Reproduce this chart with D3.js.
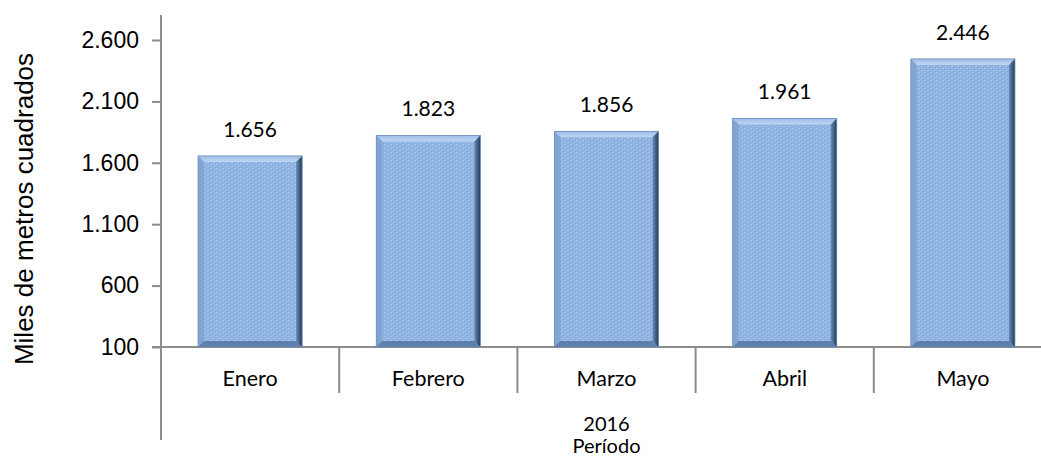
<!DOCTYPE html>
<html>
<head>
<meta charset="utf-8">
<script src="https://cdn.jsdelivr.net/npm/d3@7"></script>
<style>
  body { margin: 0; background: #fff; }
  svg { display: block; }
</style>
</head>
<body>
<div id="chart"></div>
<script>
// chart data
const months = ["Enero", "Febrero", "Marzo", "Abril", "Mayo"];
const values = [1656, 1823, 1856, 1961, 2446];
const yTicks = [100, 600, 1100, 1600, 2100, 2600];
const yearLabel = "2016";
const xTitle = "Período";
const yTitle = "Miles de metros cuadrados";

const width = 1041, height = 458;
const plotLeft = 161, plotRight = 1052, plotTop = 15, base = 347;
const labelFont = "Lato, Open Sans, sans-serif";

const locale = d3.formatLocale({decimal: ",", thousands: ".", grouping: [3], currency: ["", ""]});
const fmt = locale.format(",.0f");

const svg = d3.select("#chart").append("svg")
    .attr("width", width)
    .attr("height", height);

const x = d3.scaleBand()
    .domain(months)
    .range([plotLeft, plotRight])
    .paddingInner(0.416)
    .paddingOuter(0.208);

const y = d3.scaleLinear()
    .domain([100, 2600])
    .range([base, 40]);

// texture + gradients for the bevelled bars
const defs = svg.append("defs");
const pat = defs.append("pattern")
    .attr("id", "tex")
    .attr("patternUnits", "userSpaceOnUse")
    .attr("width", 6).attr("height", 4);
pat.append("rect").attr("width", 6).attr("height", 4).attr("fill", "#8fb4e2");
pat.append("rect").attr("x", 0).attr("y", 0).attr("width", 2).attr("height", 1).attr("fill", "#a3c4ed");
pat.append("rect").attr("x", 3).attr("y", 2).attr("width", 2).attr("height", 1).attr("fill", "#a3c4ed");
pat.append("rect").attr("x", 2).attr("y", 1).attr("width", 1).attr("height", 1).attr("fill", "#7fa5d5");
pat.append("rect").attr("x", 5).attr("y", 3).attr("width", 1).attr("height", 1).attr("fill", "#7fa5d5");

const rg = defs.append("linearGradient").attr("id", "rightEdge")
    .attr("x1", 0).attr("x2", 1).attr("y1", 0).attr("y2", 0);
rg.append("stop").attr("offset", "0%").attr("stop-color", "#6a8cb8");
rg.append("stop").attr("offset", "100%").attr("stop-color", "#22395a");

const tg = defs.append("linearGradient").attr("id", "topEdge")
    .attr("x1", 0).attr("x2", 0).attr("y1", 0).attr("y2", 1);
tg.append("stop").attr("offset", "0%").attr("stop-color", "#9dbde6");
tg.append("stop").attr("offset", "100%").attr("stop-color", "#bfd6f3");

// axes lines
const axisColor = "#8c8c8c";
svg.append("line")
    .attr("x1", plotLeft).attr("x2", plotLeft)
    .attr("y1", plotTop).attr("y2", 440)
    .attr("stroke", axisColor).attr("stroke-width", 2);

svg.append("line")
    .attr("x1", plotLeft - 9).attr("x2", plotRight)
    .attr("y1", base).attr("y2", base)
    .attr("stroke", axisColor).attr("stroke-width", 2);

const yAxis = d3.axisLeft(y)
    .tickValues(yTicks)
    .tickSize(9)
    .tickPadding(13)
    .tickFormat(fmt);

const gy = svg.append("g")
    .attr("transform", `translate(${plotLeft},0)`)
    .call(yAxis);
gy.select(".domain").remove();
gy.selectAll(".tick line").attr("stroke", axisColor).attr("stroke-width", 2);
gy.selectAll(".tick text")
    .attr("font-family", "Liberation Sans, Arial, sans-serif")
    .attr("font-size", "23px")
    .attr("fill", "#000");

// category separators
const seps = months.slice(1).map(m => x(m) - x.step() * x.paddingInner() / 2).concat([plotRight]);
svg.selectAll(".sep")
    .data(seps)
    .enter().append("line")
    .attr("class", "sep")
    .attr("x1", d => d).attr("x2", d => d)
    .attr("y1", base).attr("y2", 393)
    .attr("stroke", axisColor).attr("stroke-width", 2);

// bars
const bev = 6;
const bars = svg.selectAll(".bar")
    .data(months.map((m, i) => ({month: m, value: values[i]})))
    .enter().append("g")
    .attr("class", "bar");

bars.each(function(d) {
    const g = d3.select(this);
    const x0 = x(d.month), x1 = x0 + x.bandwidth();
    const y0 = y(d.value), y1 = base;

    g.append("rect")
        .attr("x", x0).attr("y", y0)
        .attr("width", x1 - x0).attr("height", y1 - y0)
        .attr("fill", "url(#tex)");
    // top bevel
    g.append("polygon")
        .attr("points", [[x0, y0], [x1, y0], [x1 - bev, y0 + bev], [x0 + bev, y0 + bev]].join(" "))
        .attr("fill", "url(#topEdge)");
    // left bevel
    g.append("polygon")
        .attr("points", [[x0, y0], [x0 + bev, y0 + bev], [x0 + bev, y1 - bev], [x0, y1]].join(" "))
        .attr("fill", "#7fa3d0").attr("opacity", 0.9);
    // bottom bevel
    g.append("polygon")
        .attr("points", [[x0, y1], [x0 + bev, y1 - bev], [x1 - bev, y1 - bev], [x1, y1]].join(" "))
        .attr("fill", "#5f80ab");
    // right bevel
    g.append("polygon")
        .attr("points", [[x1, y0], [x1 - bev, y0 + bev], [x1 - bev, y1 - bev], [x1, y1]].join(" "))
        .attr("fill", "url(#rightEdge)");
    g.append("rect")
        .attr("x", x0).attr("y", y0)
        .attr("width", x1 - x0).attr("height", y1 - y0)
        .attr("fill", "none")
        .attr("stroke", "#6b8cb6").attr("stroke-width", 0.8);
});

// value labels
svg.selectAll(".value")
    .data(values)
    .enter().append("text")
    .attr("class", "value")
    .attr("x", (d, i) => x(months[i]) + x.bandwidth() / 2)
    .attr("y", d => y(d) - 19)
    .attr("text-anchor", "middle")
    .attr("font-family", labelFont)
    .attr("font-size", "21px")
    .attr("fill", "#000")
    .text(d => fmt(d));

// category labels
svg.selectAll(".cat")
    .data(months)
    .enter().append("text")
    .attr("class", "cat")
    .attr("x", d => x(d) + x.bandwidth() / 2)
    .attr("y", 386)
    .attr("text-anchor", "middle")
    .attr("font-family", labelFont)
    .attr("font-size", "21.5px")
    .attr("fill", "#000")
    .text(d => d);

const midX = (plotLeft + plotRight) / 2;
svg.append("text")
    .attr("x", midX).attr("y", 431)
    .attr("text-anchor", "middle")
    .attr("font-family", labelFont)
    .attr("font-size", "20px")
    .text(yearLabel);

svg.append("text")
    .attr("x", midX).attr("y", 453)
    .attr("text-anchor", "middle")
    .attr("font-family", labelFont)
    .attr("font-size", "20px")
    .text(xTitle);

// y title
svg.append("text")
    .attr("transform", "translate(33,209) rotate(-90)")
    .attr("text-anchor", "middle")
    .attr("font-family", "Liberation Sans, Arial, sans-serif")
    .attr("font-size", "26px")
    .attr("fill", "#000")
    .text(yTitle);
</script>
</body>
</html>
